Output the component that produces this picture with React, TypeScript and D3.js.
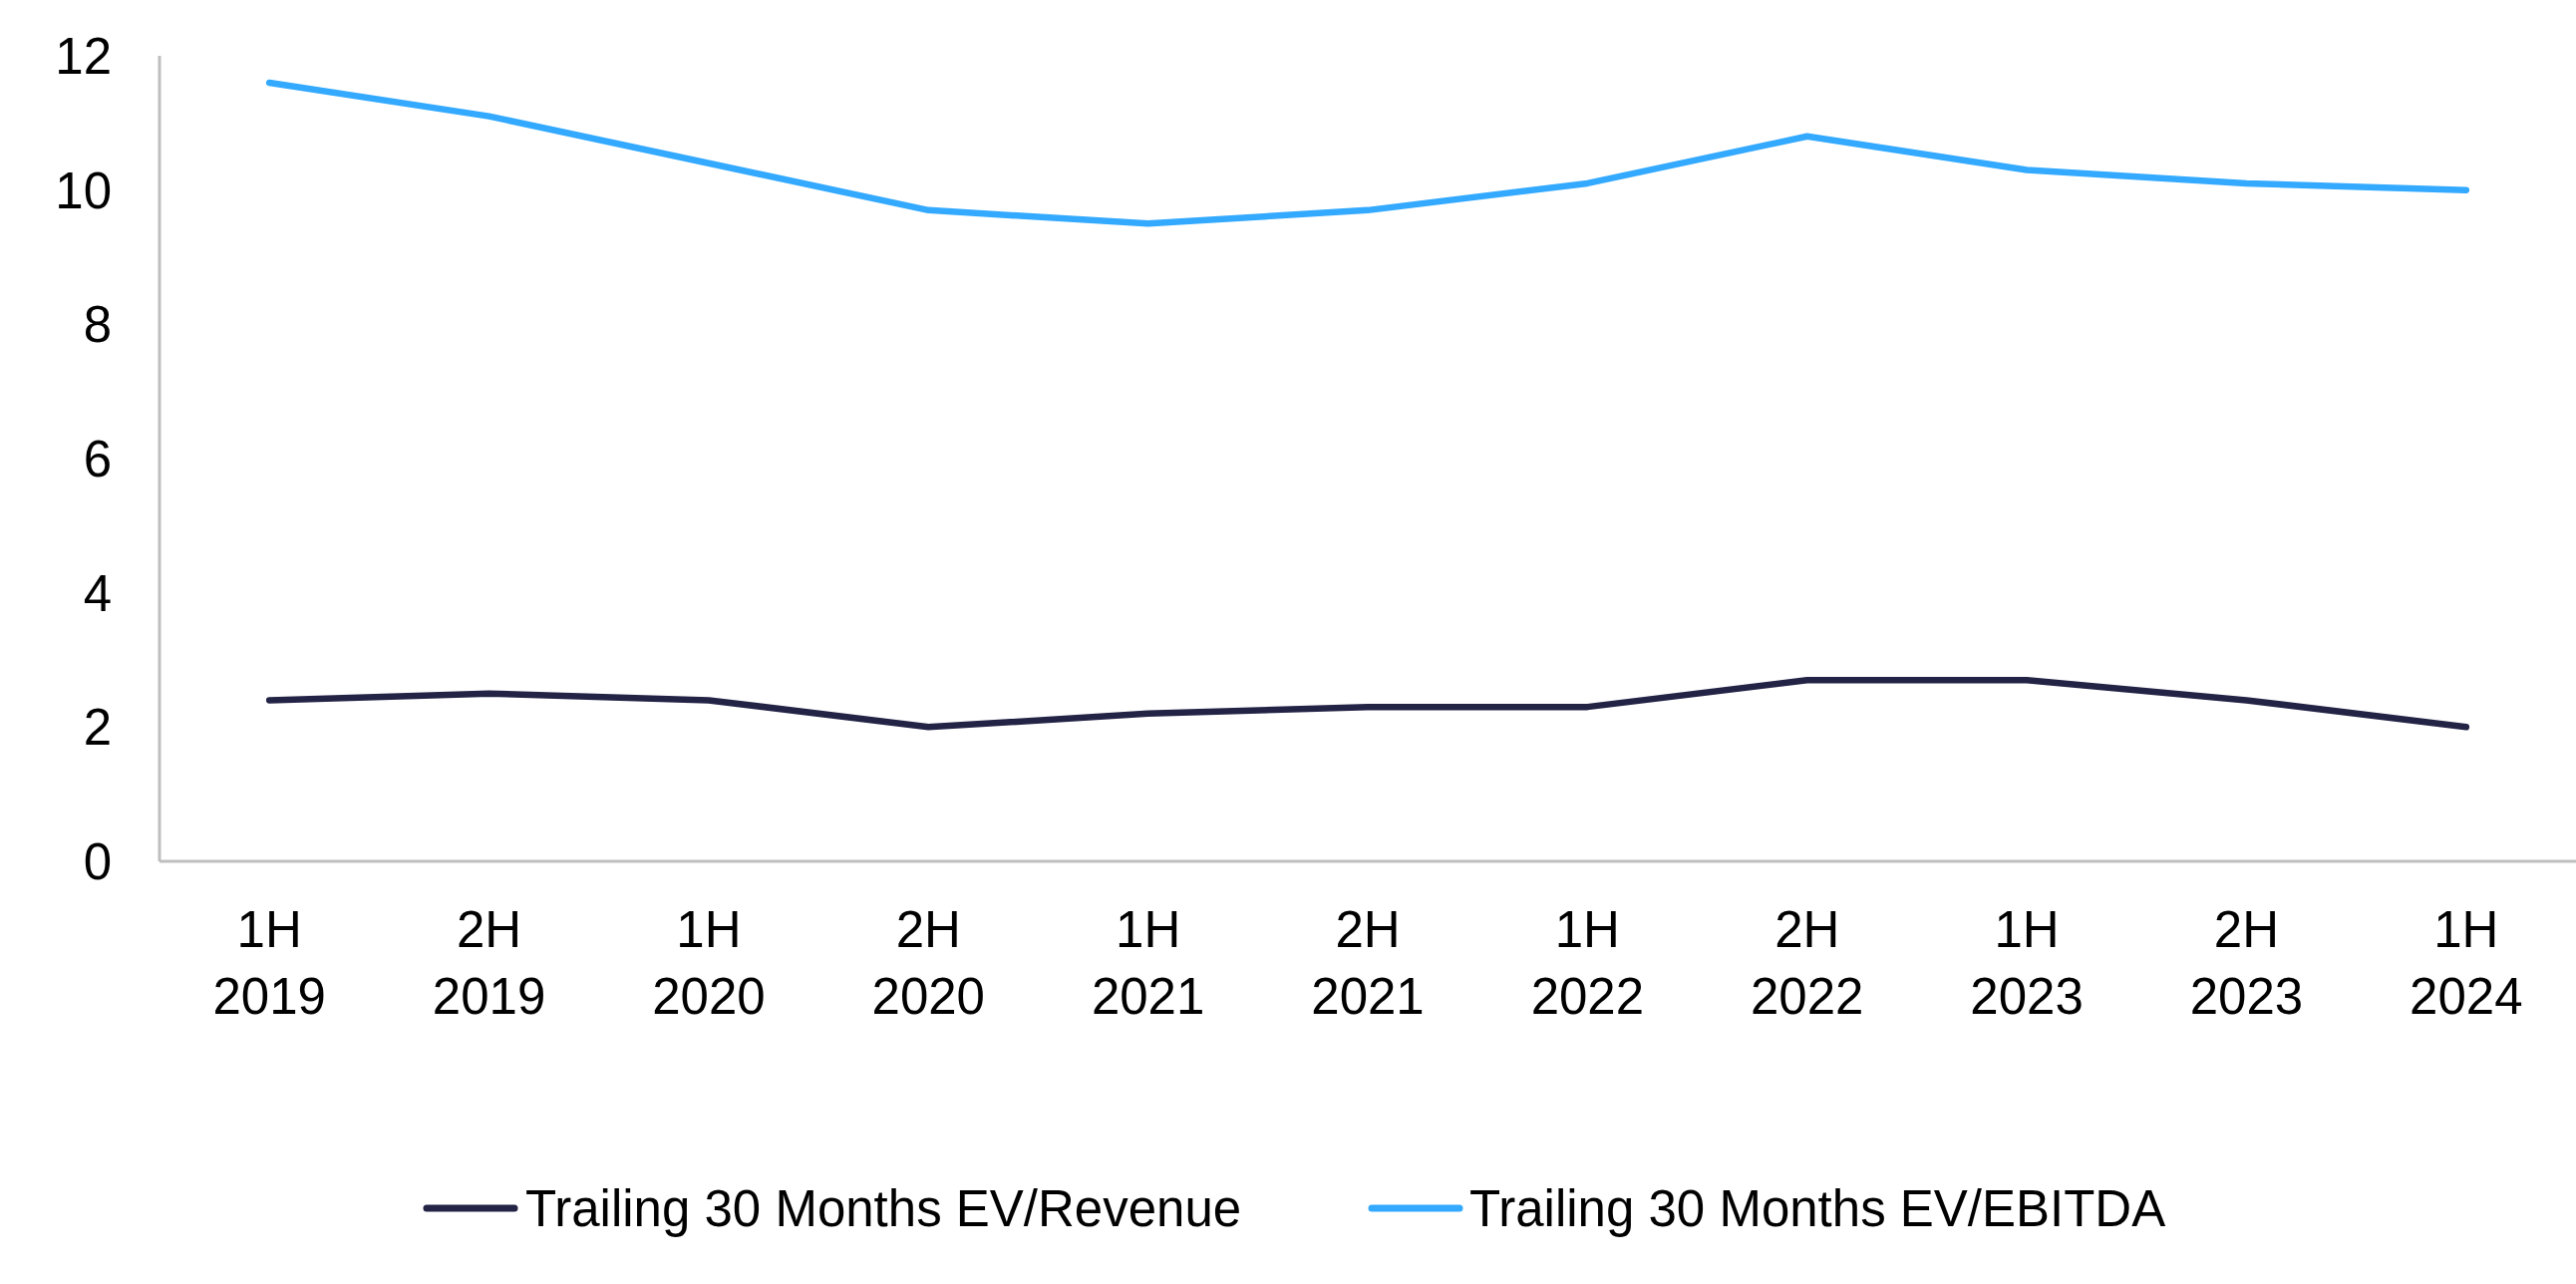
import React from 'react';
import * as d3 from 'd3';

// half-year periods (two-line tick labels)
const periods = ['1H 2019', '2H 2019', '1H 2020', '2H 2020', '1H 2021', '2H 2021', '1H 2022', '2H 2022', '1H 2023', '2H 2023', '1H 2024'];
const evRevenue = [2.4, 2.5, 2.4, 2.0, 2.2, 2.3, 2.3, 2.7, 2.7, 2.4, 2.0];
const evEbitda = [11.6, 11.1, 10.4, 9.7, 9.5, 9.7, 10.1, 10.8, 10.3, 10.1, 10.0];
const yTicks = [0, 2, 4, 6, 8, 10, 12];
const seriesNames = ['Trailing 30 Months EV/Revenue', 'Trailing 30 Months EV/EBITDA'];

const W = 2584;
const H = 1288;
const FONT = '"Liberation Sans", Arial, sans-serif';
const NAVY = '#222345';
const BLUE = '#33A9FF';
const AXIS = '#BFBFBF';

export default function App() {
  const left = 160;
  const top = 56;
  const bottom = 864;

  const x = d3.scaleBand<string>().domain(periods).range([left, W]);
  const y = d3.scaleLinear().domain([0, 12]).range([bottom, top]);
  const cx = (p: string) => (x(p) || 0) + x.bandwidth() / 2;

  const line = d3.line<number>()
    .x((_, i) => cx(periods[i]))
    .y(d => y(d));

  const series = [
    { name: seriesNames[0], values: evRevenue, color: NAVY },
    { name: seriesNames[1], values: evEbitda, color: BLUE },
  ];

  // legend item positions (swatch start, text start)
  const legend = [
    { sx: 428, tx: 527 },
    { sx: 1376, tx: 1474 },
  ];
  const legendY = 1212;

  return (
    <svg width={W} height={H} style={{ position: 'absolute', left: 0, top: 0, background: '#fff' }}>
      {/* axes */}
      <line x1={left} x2={left} y1={top} y2={bottom} stroke={AXIS} strokeWidth={3} />
      <line x1={left} x2={W} y1={bottom} y2={bottom} stroke={AXIS} strokeWidth={3} />

      {yTicks.map(t => (
        <text key={t} x={112} y={y(t) + 18} textAnchor="end" fontFamily={FONT} fontSize={51} fill="#000">
          {t}
        </text>
      ))}

      {periods.map(p => {
        const [h, yr] = p.split(' ');
        return (
          <g key={p}>
            <text x={cx(p)} y={950} textAnchor="middle" fontFamily={FONT} fontSize={51} fill="#000">{h}</text>
            <text x={cx(p)} y={1017} textAnchor="middle" fontFamily={FONT} fontSize={51} fill="#000">{yr}</text>
          </g>
        );
      })}

      {series.map(s => (
        <path key={s.name} d={line(s.values) || ''} fill="none" stroke={s.color} strokeWidth={6.5}
          strokeLinecap="round" strokeLinejoin="round" />
      ))}

      {series.map((s, i) => (
        <g key={'lg' + s.name}>
          <line x1={legend[i].sx} x2={legend[i].sx + 88} y1={legendY} y2={legendY} stroke={s.color}
            strokeWidth={7} strokeLinecap="round" />
          <text x={legend[i].tx} y={legendY + 18} fontFamily={FONT} fontSize={51} fill="#000">{s.name}</text>
        </g>
      ))}
    </svg>
  );
}
